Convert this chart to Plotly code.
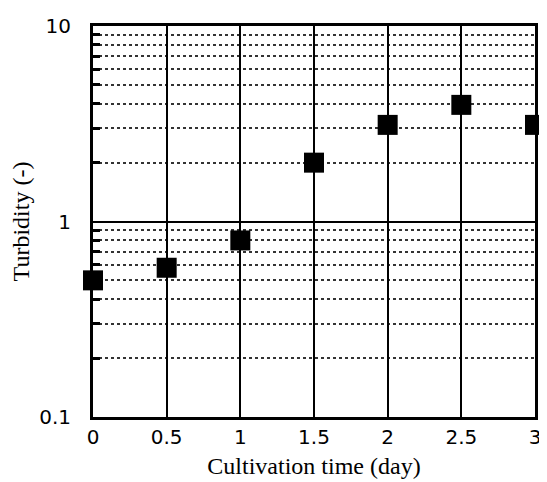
import plotly.graph_objects as go

time_day = [0, 0.5, 1, 1.5, 2, 2.5, 3]
turbidity = [0.50, 0.58, 0.80, 2.0, 3.12, 3.95, 3.12]

x_ticks = [0, 0.5, 1, 1.5, 2, 2.5, 3]
x_ticklabels = ["0", "0.5", "1", "1.5", "2", "2.5", "3"]
y_major = [0.1, 1, 10]
y_major_labels = ["0.1", "1", "10"]
y_minor = [0.2, 0.3, 0.4, 0.5, 0.6, 0.7, 0.8, 0.9,
           2, 3, 4, 5, 6, 7, 8, 9]

fig = go.Figure()
fig.add_trace(go.Scatter(
    x=time_day, y=turbidity, mode="markers",
    marker=dict(symbol="square", size=20, color="black",
                line=dict(width=0)),
    cliponaxis=False, showlegend=False))

tick_font = dict(family="DejaVu Sans", size=20, color="black")
title_font = dict(family="Liberation Serif", size=24, color="black")

# page body has an 8px default margin, so the figure is sized to fit the window
fig.update_layout(
    width=539, height=474,
    margin=dict(l=85, r=6, t=17, b=58),
    paper_bgcolor="white", plot_bgcolor="white",
    xaxis=dict(
        range=[0, 3], tickmode="array", tickvals=x_ticks, ticktext=x_ticklabels,
        showgrid=True, gridcolor="black", gridwidth=2,
        showline=True, linecolor="black", linewidth=3, mirror=True,
        ticks="", tickfont=tick_font, zeroline=False, ticklabelstandoff=0,
        title=dict(text="Cultivation time (day)", font=title_font, standoff=10),
    ),
    yaxis=dict(
        type="log", range=[-1, 1], tickmode="array", tickvals=y_major,
        ticktext=y_major_labels,
        showgrid=True, gridcolor="black", gridwidth=2,
        showline=True, linecolor="black", linewidth=3, mirror=True,
        ticks="", tickfont=tick_font, zeroline=False, ticklabelstandoff=15,
        minor=dict(tickmode="array", tickvals=y_minor, showgrid=True,
                   gridcolor="#333333", griddash="dot", gridwidth=1.5,
                   ticks="inside", ticklen=7, tickwidth=3, tickcolor="black"),
        title=dict(text="Turbidity (-)", font=title_font, standoff=4),
    ),
)

fig.write_html("out.html")
